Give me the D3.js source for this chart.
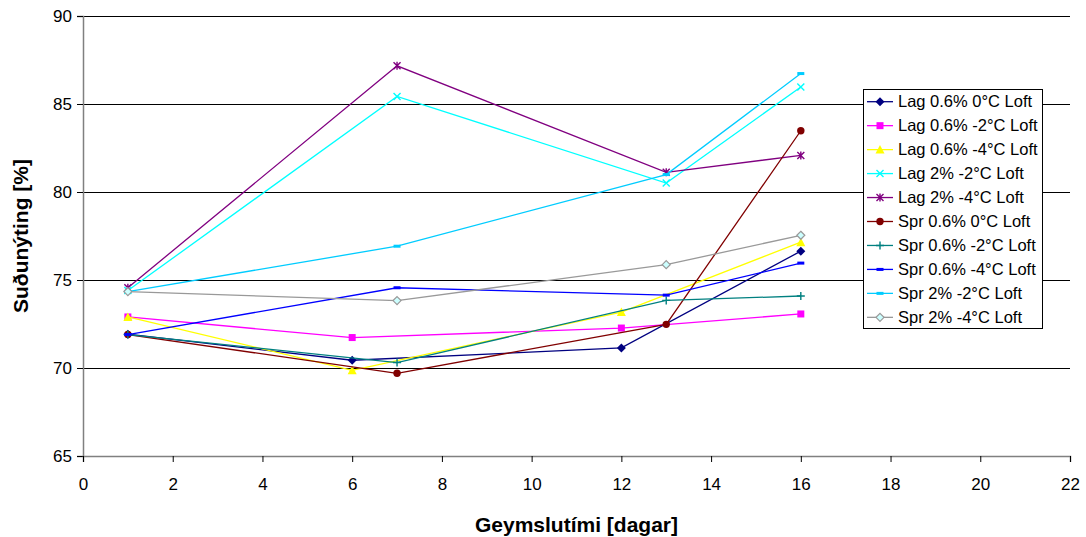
<!DOCTYPE html>
<html>
<head>
<meta charset="utf-8">
<script src="https://cdn.jsdelivr.net/npm/d3@7"></script>
<style>
  html, body { margin: 0; padding: 0; background: #fff; }
  svg { display: block; font-family: Arial, "Liberation Sans", sans-serif; }
</style>
</head>
<body>
<svg id="chart" width="1086" height="537"></svg>
<script>
// Storage time (days) at which each group was measured
const daysLag = [1, 6, 12, 16];
const daysSpr = [1, 7, 13, 16];

// Yield (%) per series
const lag06_0  = [71.92, 70.44, 71.14, 76.64];
const lag06_m2 = [72.90, 71.73, 72.27, 73.07];
const lag06_m4 = [72.90, 69.87, 73.18, 77.15];
const lag2_m2  = [74.40, 85.43, 80.51, 85.97];
const lag2_m4  = [74.56, 87.17, 81.12, 82.08];
const spr06_0  = [71.90, 69.70, 72.48, 83.48];
const spr06_m2 = [71.90, 70.31, 73.84, 74.09];
const spr06_m4 = [71.90, 74.56, 74.14, 75.96];
const spr2_m2  = [74.34, 76.92, 80.99, 86.73];
const spr2_m4  = [74.34, 73.83, 75.87, 77.54];

const seriesNames = [
  "Lag 0.6% 0°C Loft", "Lag 0.6% -2°C Loft", "Lag 0.6% -4°C Loft",
  "Lag 2% -2°C Loft", "Lag 2% -4°C Loft",
  "Spr 0.6% 0°C Loft", "Spr 0.6% -2°C Loft", "Spr 0.6% -4°C Loft",
  "Spr 2% -2°C Loft", "Spr 2% -4°C Loft"
];
const xTicks = [0, 2, 4, 6, 8, 10, 12, 14, 16, 18, 20, 22];
const yTicks = [65, 70, 75, 80, 85, 90];

const series = [
  { name: seriesNames[0], x: daysLag, y: lag06_0,  color: "#000080", marker: "diamond" },
  { name: seriesNames[1], x: daysLag, y: lag06_m2, color: "#FF00FF", marker: "square" },
  { name: seriesNames[2], x: daysLag, y: lag06_m4, color: "#FFFF00", marker: "triangle" },
  { name: seriesNames[3], x: daysSpr, y: lag2_m2,  color: "#00FFFF", marker: "cross" },
  { name: seriesNames[4], x: daysSpr, y: lag2_m4,  color: "#800080", marker: "star" },
  { name: seriesNames[5], x: daysSpr, y: spr06_0,  color: "#800000", marker: "circle" },
  { name: seriesNames[6], x: daysSpr, y: spr06_m2, color: "#008080", marker: "plus" },
  { name: seriesNames[7], x: daysSpr, y: spr06_m4, color: "#0000FF", marker: "dash" },
  { name: seriesNames[8], x: daysSpr, y: spr2_m2,  color: "#00CCFF", marker: "dash" },
  { name: seriesNames[9], x: daysSpr, y: spr2_m4,  color: "#999999", marker: "odiamond" }
];

const svg = d3.select("#chart");
const plot = { left: 83, right: 1070, top: 16, bottom: 456 };

const x = d3.scaleLinear().domain([0, 22]).range([plot.left, plot.right]);
const y = d3.scaleLinear().domain([65, 90]).range([plot.bottom, plot.top]);

// Horizontal gridlines
svg.append("g")
  .selectAll("line")
  .data(yTicks.filter(v => v > 65))
  .join("line")
  .attr("x1", plot.left).attr("x2", plot.right)
  .attr("y1", d => y(d) + 0.5).attr("y2", d => y(d) + 0.5)
  .attr("stroke", "#000").attr("stroke-width", 1);

// Y axis
const yAxis = svg.append("g")
  .attr("transform", `translate(${plot.left},0)`)
  .call(d3.axisLeft(y).tickValues(yTicks).tickSize(6).tickPadding(5));
yAxis.select(".domain").attr("stroke", "#808080").attr("stroke-width", 1.5);
yAxis.selectAll(".tick line").attr("stroke", "#000");
yAxis.selectAll(".tick text").attr("font-size", 17).attr("fill", "#000")
  .attr("font-family", "Arial, 'Liberation Sans', sans-serif");

// X axis
const xAxis = svg.append("g")
  .attr("transform", `translate(0,${plot.bottom})`)
  .call(d3.axisBottom(x).tickValues(xTicks).tickSize(6).tickPadding(16));
xAxis.select(".domain").attr("stroke", "#808080").attr("stroke-width", 1.5);
xAxis.selectAll(".tick line").attr("stroke", "#000");
xAxis.selectAll(".tick text").attr("font-size", 17).attr("fill", "#000")
  .attr("font-family", "Arial, 'Liberation Sans', sans-serif");

// Axis titles
svg.append("text")
  .attr("x", (plot.left + plot.right) / 2).attr("y", 532)
  .attr("text-anchor", "middle")
  .attr("font-size", 21).attr("font-weight", "bold")
  .text("Geymslutími [dagar]");

svg.append("text")
  .attr("transform", `translate(28,${(plot.top + plot.bottom) / 2}) rotate(-90)`)
  .attr("text-anchor", "middle")
  .attr("font-size", 21).attr("font-weight", "bold")
  .text("Suðunýting [%]");

// Marker drawing
function drawMarker(g, type, color) {
  switch (type) {
    case "diamond":
      g.append("path").attr("d", "M0,-4.5L4.5,0L0,4.5L-4.5,0Z").attr("fill", color);
      break;
    case "odiamond":
      g.append("path").attr("d", "M0,-4L4,0L0,4L-4,0Z")
        .attr("fill", "#CCFFFF").attr("stroke", color).attr("stroke-width", 1.2);
      break;
    case "square":
      g.append("rect").attr("x", -3.5).attr("y", -3.5).attr("width", 7).attr("height", 7).attr("fill", color);
      break;
    case "triangle":
      g.append("path").attr("d", "M0,-4.5L4.5,4L-4.5,4Z").attr("fill", color);
      break;
    case "circle":
      g.append("circle").attr("r", 3.7).attr("fill", color);
      break;
    case "cross":
      g.append("path").attr("d", "M-3.5,-3.5L3.5,3.5M-3.5,3.5L3.5,-3.5")
        .attr("stroke", color).attr("stroke-width", 1.4).attr("fill", "none");
      break;
    case "star":
      g.append("path").attr("d", "M-3.5,-3.5L3.5,3.5M-3.5,3.5L3.5,-3.5M0,-4L0,4")
        .attr("stroke", color).attr("stroke-width", 1.4).attr("fill", "none");
      break;
    case "plus":
      g.append("path").attr("d", "M-4,0L4,0M0,-4L0,4")
        .attr("stroke", color).attr("stroke-width", 1.4).attr("fill", "none");
      break;
    case "dash":
      g.append("rect").attr("x", -3.5).attr("y", -1.5).attr("width", 7).attr("height", 3).attr("fill", color);
      break;
  }
}

// Series lines and markers
const line = d3.line().x(d => x(d[0])).y(d => y(d[1]));
series.forEach(s => {
  const pts = s.x.map((v, i) => [v, s.y[i]]);
  svg.append("path")
    .datum(pts)
    .attr("d", line)
    .attr("fill", "none")
    .attr("stroke", s.color)
    .attr("stroke-width", 1.3);
  pts.forEach(p => {
    const g = svg.append("g").attr("transform", `translate(${x(p[0])},${y(p[1])})`);
    drawMarker(g, s.marker, s.color);
  });
});

// Legend
const legend = svg.append("g");
legend.append("rect")
  .attr("x", 863.5).attr("y", 89.5).attr("width", 179).attr("height", 239)
  .attr("fill", "#fff").attr("stroke", "#000").attr("stroke-width", 1);
series.forEach((s, i) => {
  const cy = 101.7 + i * 23.96;
  legend.append("line")
    .attr("x1", 867).attr("x2", 893).attr("y1", cy).attr("y2", cy)
    .attr("stroke", s.color).attr("stroke-width", 1.3);
  drawMarker(legend.append("g").attr("transform", `translate(880,${cy})`), s.marker, s.color);
  legend.append("text")
    .attr("x", 898).attr("y", cy).attr("dy", "0.35em")
    .attr("font-size", 16.5)
    .text(s.name);
});
</script>
</body>
</html>
